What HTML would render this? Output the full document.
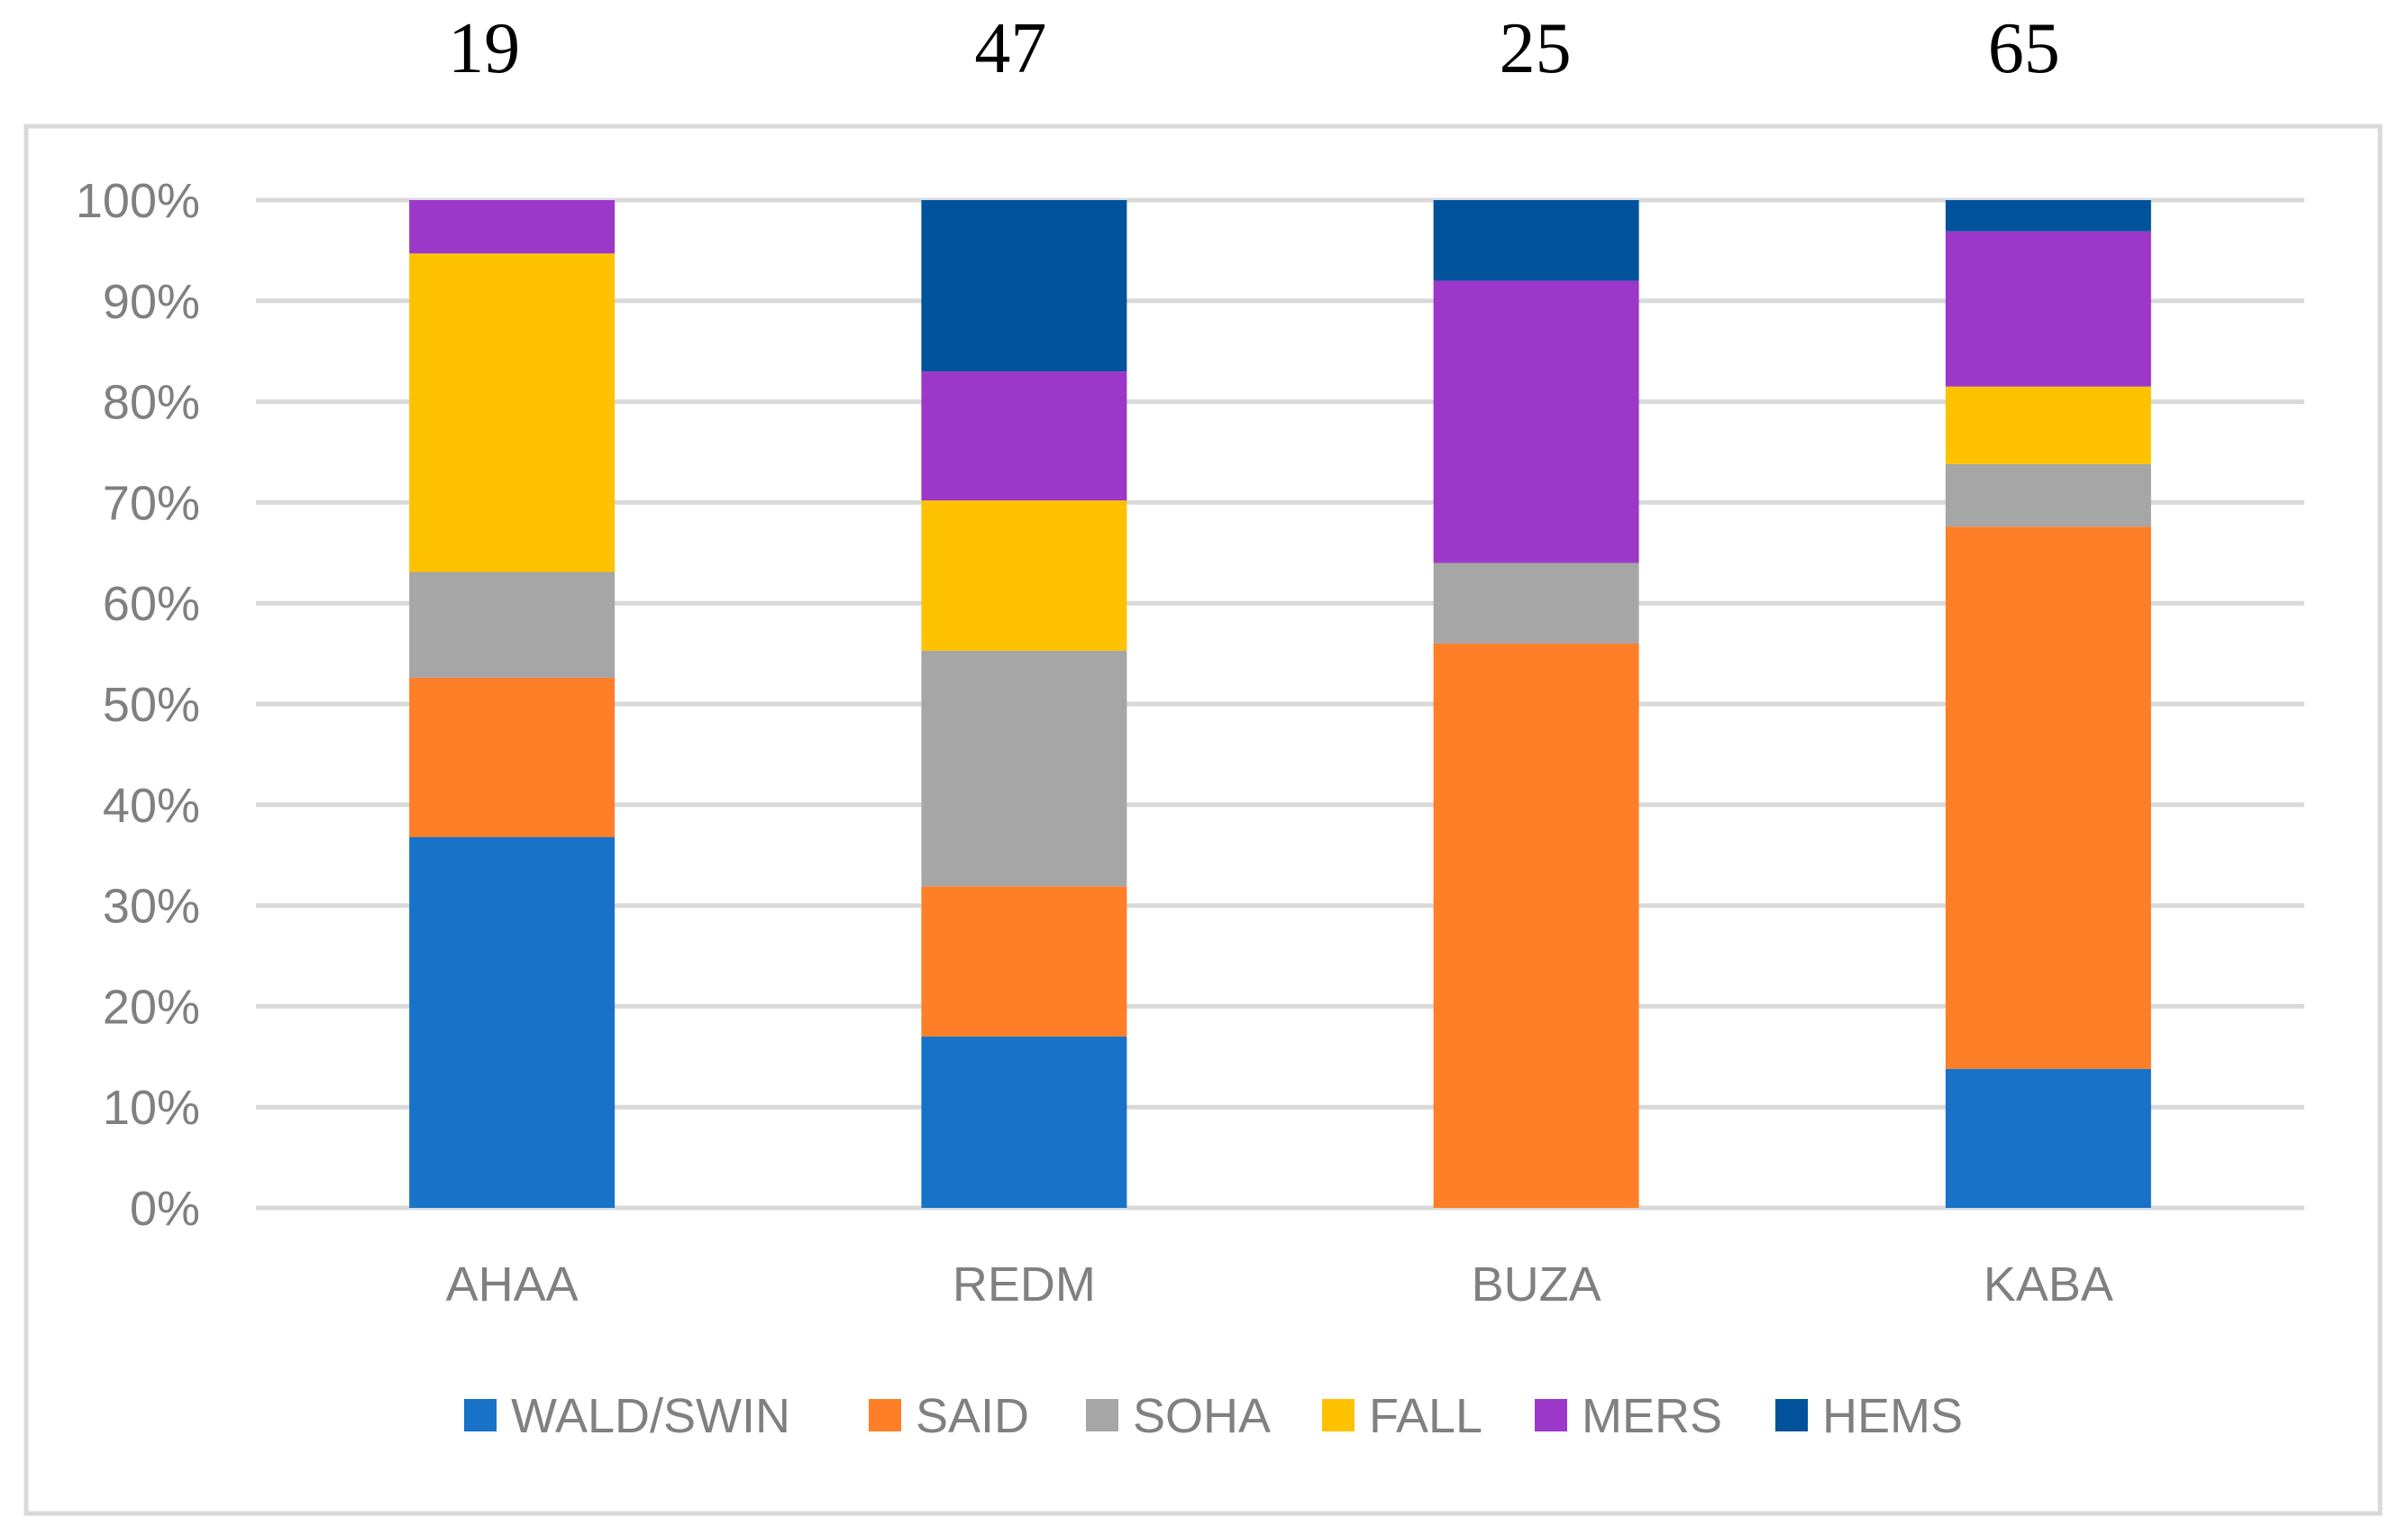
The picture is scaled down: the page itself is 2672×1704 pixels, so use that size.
<!DOCTYPE html>
<html><head><meta charset="utf-8"><style>
html,body{margin:0;padding:0;background:#fff;}
svg{display:block;}
</style></head><body>
<svg id="chart" width="2672" height="1704" viewBox="0 0 2672 1704" xmlns="http://www.w3.org/2000/svg">
<rect x="29" y="140" width="2612" height="1539" fill="none" stroke="#d9d9d9" stroke-width="5"/>
<g id="grid"></g><g id="bars"></g><g id="labels"></g><g id="legend"></g>
</svg>
<script>
const categories = ["AHAA","REDM","BUZA","KABA"];
const totals = ["19","47","25","65"];
const seriesNames = ["WALD/SWIN","SAID","SOHA","FALL","MERS","HEMS"];
const seriesColors = ["#1872c8","#fe7f27","#a6a6a6","#fec200","#9c38c9","#00539b"];
const waldSwin = [36.8,17.0,0,13.8];
const said = [15.8,14.9,56,53.8];
const soha = [10.5,23.4,8,6.2];
const fall = [31.6,14.9,0,7.7];
const mers = [5.3,12.8,28,15.4];
const hems = [0,17.0,8,3.1];
const yTicks = [0,10,20,30,40,50,60,70,80,90,100];
const tickLabels = ["0%","10%","20%","30%","40%","50%","60%","70%","80%","90%","100%"];
const series = [waldSwin,said,soha,fall,mers,hems];

const NS="http://www.w3.org/2000/svg";
const plotL=284, plotR=2557, y0=1340, y100=222;
const catW=(plotR-plotL)/categories.length, barW=228;
const totalOffsets=[-31,-15,-1,-27];
const yScale=v=>y0-(v/100)*(y0-y100);
const xCenter=i=>plotL+catW*(i+0.5);
function mk(tag,attrs,parent){const e=document.createElementNS(NS,tag);for(const k in attrs)e.setAttribute(k,attrs[k]);parent.appendChild(e);return e;}
const grid=document.getElementById('grid'),bars=document.getElementById('bars'),labels=document.getElementById('labels'),legend=document.getElementById('legend');
const font='"Liberation Sans", sans-serif';
yTicks.forEach((t,i)=>{
  const l=mk('line',{x1:plotL,x2:plotR,y1:yScale(t),y2:yScale(t),stroke:'#d9d9d9','stroke-width':5},grid);
  
  
  const tx=mk('text',{x:222,y:yScale(t)+19,'text-anchor':'end','font-family':font,'font-size':54,fill:'#808080'},labels);
  tx.textContent=tickLabels[i];
  
  
});
categories.forEach((c,i)=>{
  let acc=0;
  series.forEach((s,k)=>{
    const v=s[i]; if(v<=0) return;
    const yt=yScale(acc+v), yb=yScale(acc);
    const r=mk('rect',{x:xCenter(i)-barW/2,y:yt,width:barW,height:yb-yt,fill:seriesColors[k]},bars);
    
    
    acc+=v;
  });
  const xl=mk('text',{x:xCenter(i),y:1443,'text-anchor':'middle','font-family':font,'font-size':54,fill:'#808080'},labels);
  xl.textContent=c;
  
  
  const tl=mk('text',{x:xCenter(i)+totalOffsets[i],y:80,'text-anchor':'middle','font-family':'"Liberation Serif", serif','font-size':80,fill:'#000'},labels);
  tl.textContent=totals[i];
  
  
});
const legX=[515,964,1205,1467,1703,1970];
seriesNames.forEach((n,k)=>{
  const sq=mk('rect',{x:legX[k],y:1552,width:36,height:36,fill:seriesColors[k]},legend);
  
  
  const t=mk('text',{x:legX[k]+52,y:1589,'font-family':font,'font-size':54,fill:'#808080'},legend);
  t.textContent=n;
  
  
});
</script>
</body></html>
